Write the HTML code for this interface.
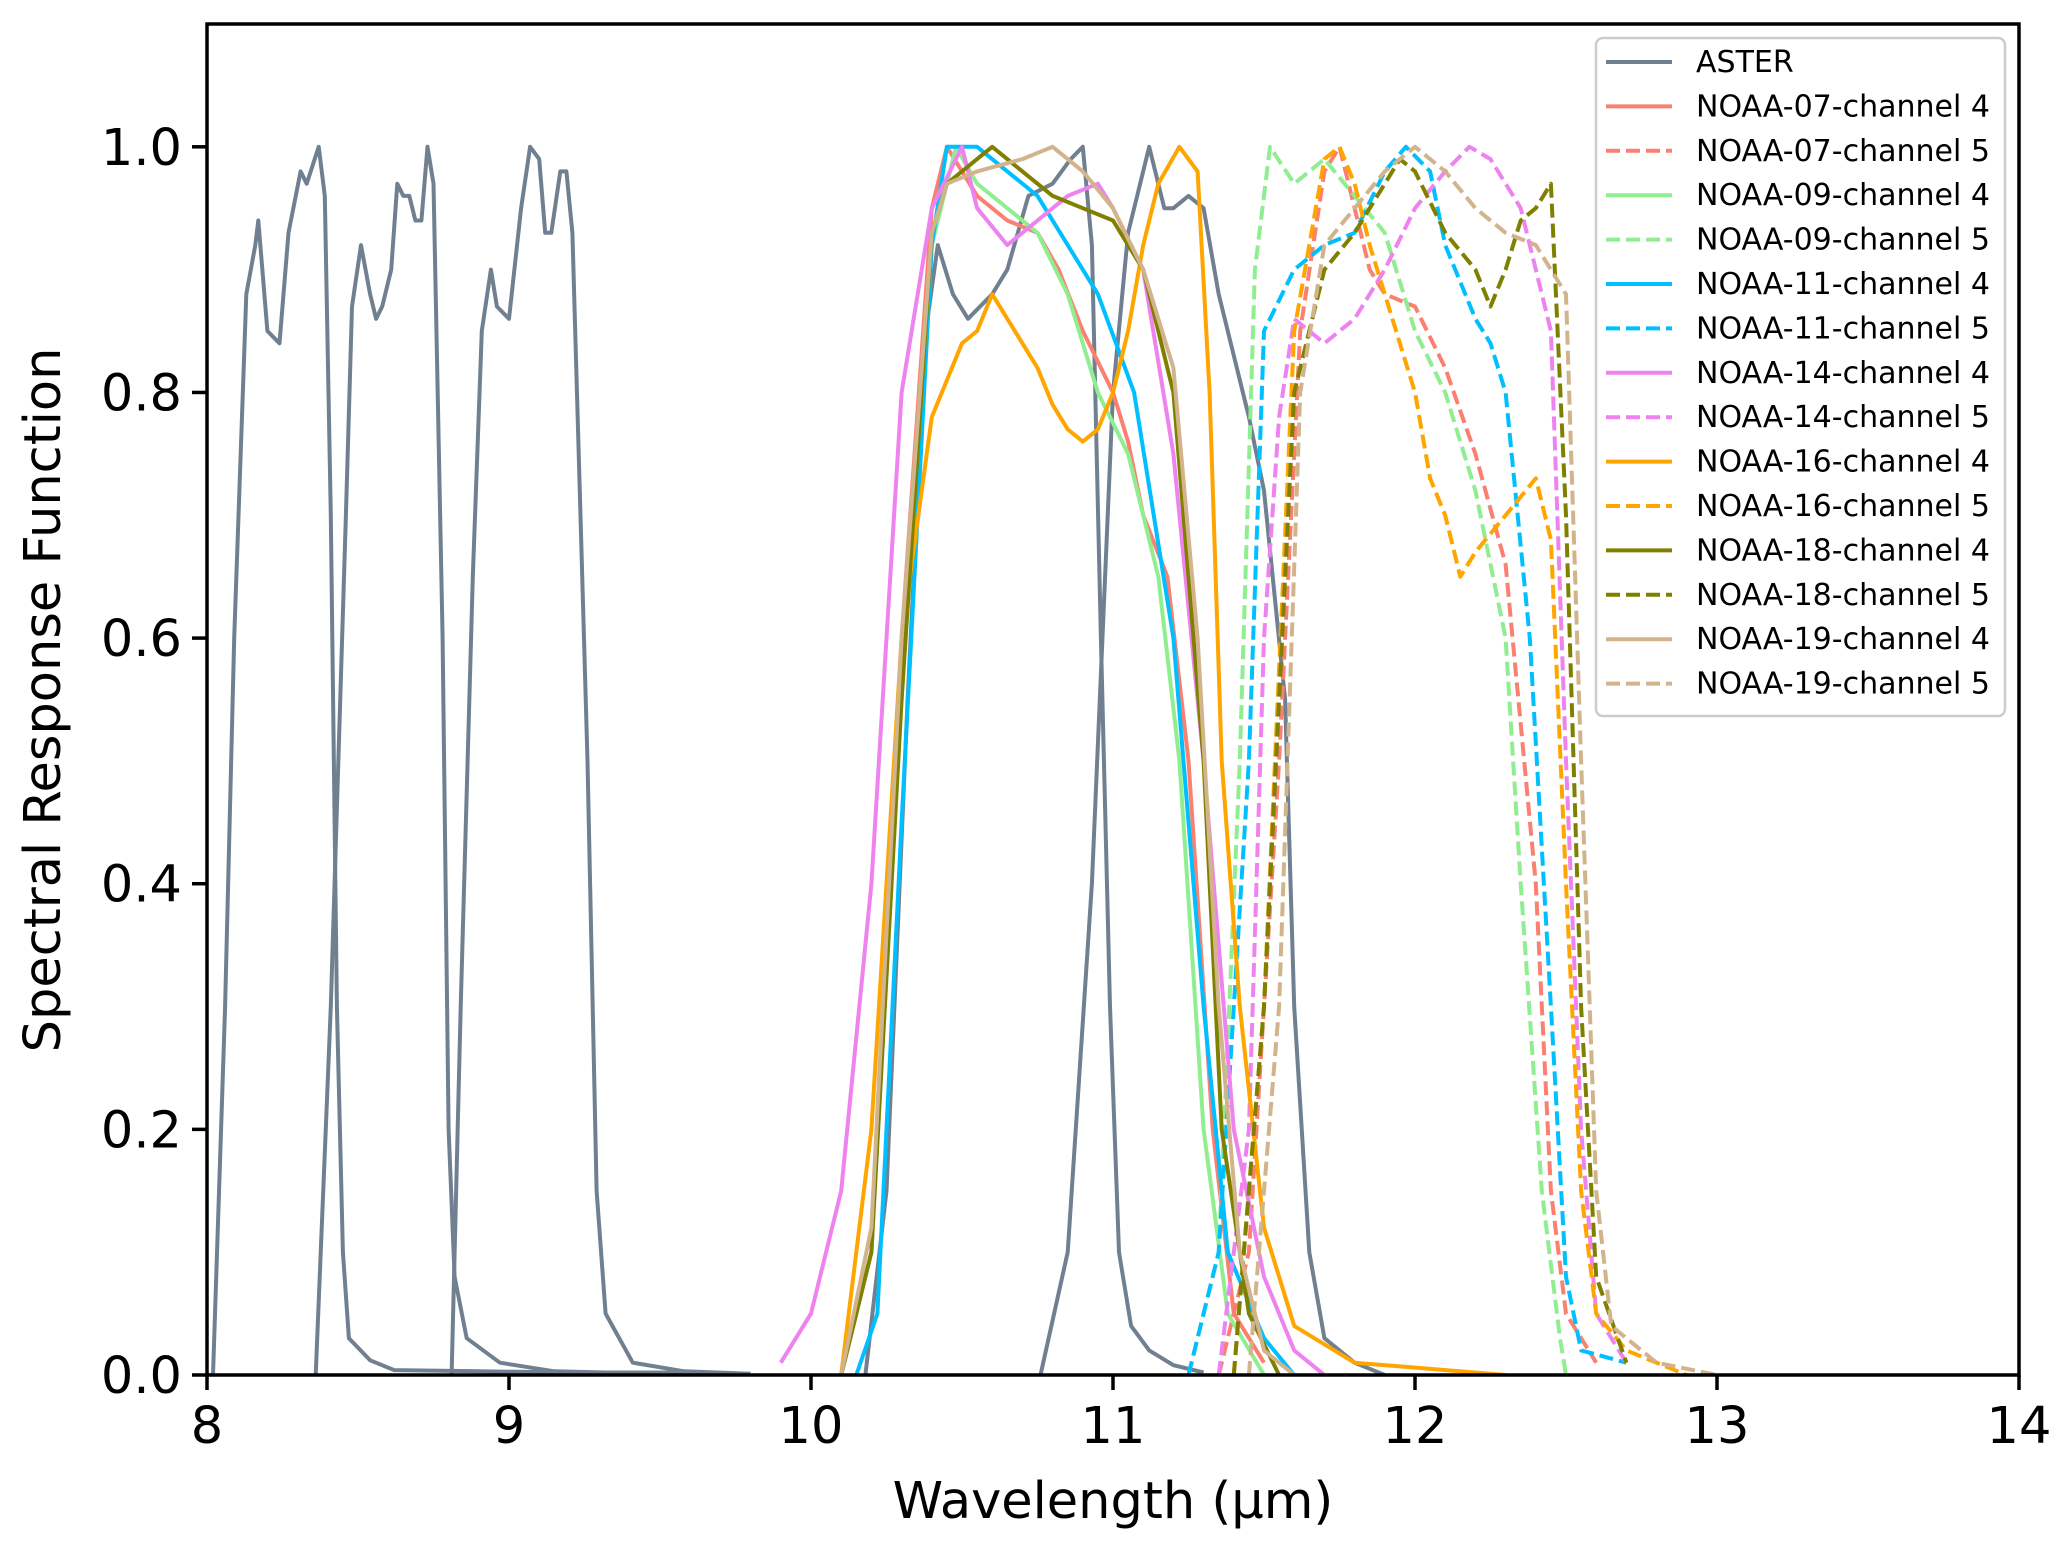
<!DOCTYPE html>
<html><head><meta charset="utf-8"><style>
body{margin:0;background:#fff}
svg{display:block}
text{font-family:"DejaVu Sans","Liberation Sans",sans-serif;fill:#000}
</style></head><body>
<svg id="chart" width="2067" height="1552" viewBox="0 0 2067 1552" xmlns="http://www.w3.org/2000/svg">
<defs><clipPath id="plotclip"><rect x="207" y="24" width="1812" height="1351"/></clipPath></defs>
<rect width="2067" height="1552" fill="#fff"/>
<g id="series" clip-path="url(#plotclip)"></g>
<g id="axes"></g>
<g id="legend"></g>
</svg>
<script>
const xTicks=[8,9,10,11,12,13,14];
const yTicks=[0,0.2,0.4,0.6,0.8,1.0];
const yTickLabels=["0.0","0.2","0.4","0.6","0.8","1.0"];
const seriesNames=["ASTER","NOAA-07-channel 4","NOAA-07-channel 5","NOAA-09-channel 4","NOAA-09-channel 5","NOAA-11-channel 4","NOAA-11-channel 5","NOAA-14-channel 4","NOAA-14-channel 5","NOAA-16-channel 4","NOAA-16-channel 5","NOAA-18-channel 4","NOAA-18-channel 5","NOAA-19-channel 4","NOAA-19-channel 5"];
const seriesColors=["#708090","#FA8072","#FA8072","#90EE90","#90EE90","#00BFFF","#00BFFF","#EE82EE","#EE82EE","#FFA500","#FFA500","#808000","#808000","#D2B48C","#D2B48C"];
const seriesDashed=[false,false,true,false,true,false,true,false,true,false,true,false,true,false,true];

const asterB10X=[8.0,8.02,8.06,8.09,8.13,8.16,8.17,8.2,8.24,8.27,8.31,8.33,8.37,8.39,8.41,8.43,8.45,8.47,8.54,8.62,8.9,9.2,9.6];
const asterB10Y=[0,0,0.3,0.6,0.88,0.92,0.94,0.85,0.84,0.93,0.98,0.97,1.0,0.96,0.7,0.3,0.1,0.03,0.012,0.004,0.003,0.002,0.002];
const asterB11X=[8.36,8.41,8.46,8.48,8.51,8.54,8.56,8.58,8.61,8.63,8.65,8.67,8.69,8.71,8.73,8.75,8.78,8.8,8.82,8.86,8.97,9.15,9.5];
const asterB11Y=[0,0.3,0.7,0.87,0.92,0.88,0.86,0.87,0.9,0.97,0.96,0.96,0.94,0.94,1.0,0.97,0.6,0.2,0.08,0.03,0.01,0.003,0.001];
const asterB12X=[8.81,8.84,8.88,8.91,8.94,8.96,9.0,9.04,9.07,9.1,9.12,9.14,9.17,9.19,9.21,9.26,9.29,9.32,9.41,9.58,9.8];
const asterB12Y=[0,0.3,0.65,0.85,0.9,0.87,0.86,0.95,1.0,0.99,0.93,0.93,0.98,0.98,0.93,0.5,0.15,0.05,0.01,0.003,0.001];
const asterB13X=[10.18,10.25,10.32,10.38,10.42,10.47,10.52,10.6,10.65,10.72,10.8,10.86,10.9,10.93,10.96,10.99,11.02,11.06,11.12,11.2,11.3];
const asterB13Y=[0,0.15,0.55,0.85,0.92,0.88,0.86,0.88,0.9,0.96,0.97,0.99,1.0,0.92,0.6,0.3,0.1,0.04,0.02,0.008,0.002];
const asterB14X=[10.76,10.85,10.93,11.0,11.05,11.12,11.17,11.2,11.25,11.3,11.35,11.45,11.5,11.57,11.6,11.65,11.7,11.8,11.9];
const asterB14Y=[0,0.1,0.4,0.8,0.93,1.0,0.95,0.95,0.96,0.95,0.88,0.78,0.72,0.55,0.3,0.1,0.03,0.01,0];

const noaa07c4X=[10.1,10.2,10.3,10.4,10.45,10.55,10.65,10.75,10.82,10.9,11.0,11.05,11.1,11.18,11.25,11.33,11.4,11.5];
const noaa07c4Y=[0,0.1,0.6,0.95,1.0,0.96,0.94,0.93,0.9,0.85,0.8,0.76,0.7,0.65,0.5,0.2,0.05,0.01];
const noaa07c5X=[11.35,11.45,11.55,11.62,11.7,11.75,11.8,11.85,11.9,12.0,12.1,12.2,12.3,12.4,12.45,12.5,12.6];
const noaa07c5Y=[0,0.1,0.5,0.85,0.98,1.0,0.95,0.9,0.88,0.87,0.82,0.75,0.66,0.4,0.15,0.05,0.01];
const noaa09c4X=[10.1,10.2,10.3,10.4,10.48,10.55,10.65,10.75,10.85,10.95,11.05,11.15,11.22,11.3,11.38,11.5];
const noaa09c4Y=[0,0.1,0.55,0.92,1.0,0.97,0.95,0.93,0.88,0.8,0.75,0.65,0.5,0.2,0.05,0];
const noaa09c5X=[11.25,11.35,11.42,11.47,11.52,11.6,11.7,11.8,11.9,12.0,12.1,12.2,12.3,12.35,12.42,12.48,12.5];
const noaa09c5Y=[0,0.1,0.5,0.9,1.0,0.97,0.99,0.96,0.93,0.85,0.8,0.72,0.6,0.4,0.15,0.03,0];
const noaa11c4X=[10.15,10.22,10.3,10.4,10.45,10.55,10.65,10.75,10.85,10.95,11.07,11.2,11.3,11.38,11.5,11.6];
const noaa11c4Y=[0,0.05,0.45,0.92,1.0,1.0,0.98,0.96,0.92,0.88,0.8,0.6,0.3,0.1,0.03,0];
const noaa11c5X=[11.25,11.35,11.45,11.5,11.6,11.7,11.8,11.9,11.97,12.05,12.1,12.2,12.25,12.3,12.38,12.45,12.5,12.55,12.7];
const noaa11c5Y=[0,0.1,0.5,0.85,0.9,0.92,0.93,0.98,1.0,0.98,0.92,0.86,0.84,0.8,0.6,0.3,0.08,0.02,0.01];
const noaa14c4X=[9.9,10.0,10.1,10.2,10.3,10.4,10.5,10.55,10.65,10.75,10.85,10.95,11.0,11.1,11.2,11.3,11.4,11.5,11.6,11.7];
const noaa14c4Y=[0.01,0.05,0.15,0.4,0.8,0.95,1.0,0.95,0.92,0.94,0.96,0.97,0.95,0.9,0.75,0.5,0.2,0.08,0.02,0];
const noaa14c5X=[11.35,11.45,11.5,11.55,11.6,11.7,11.8,11.9,12.0,12.1,12.18,12.25,12.35,12.45,12.5,12.55,12.6,12.7];
const noaa14c5Y=[0,0.2,0.6,0.78,0.86,0.84,0.86,0.9,0.95,0.98,1.0,0.99,0.95,0.85,0.5,0.2,0.05,0.01];
const noaa16c4X=[10.1,10.2,10.3,10.4,10.45,10.5,10.55,10.6,10.65,10.7,10.75,10.8,10.85,10.9,10.95,11.0,11.05,11.1,11.15,11.22,11.28,11.32,11.36,11.42,11.5,11.6,11.8,12.3];
const noaa16c4Y=[0,0.2,0.6,0.78,0.81,0.84,0.85,0.88,0.86,0.84,0.82,0.79,0.77,0.76,0.77,0.8,0.85,0.92,0.97,1.0,0.98,0.8,0.5,0.3,0.12,0.04,0.01,0];
const noaa16c5X=[11.4,11.5,11.6,11.7,11.75,11.8,11.85,11.9,12.0,12.05,12.1,12.15,12.2,12.3,12.4,12.45,12.5,12.55,12.6,12.7,12.9];
const noaa16c5Y=[0,0.3,0.85,0.99,1.0,0.97,0.92,0.88,0.8,0.73,0.7,0.65,0.67,0.7,0.73,0.68,0.4,0.15,0.05,0.02,0];
const noaa18c4X=[10.1,10.2,10.3,10.4,10.45,10.55,10.6,10.7,10.8,10.9,11.0,11.1,11.2,11.3,11.36,11.45,11.55];
const noaa18c4Y=[0,0.1,0.55,0.93,0.97,0.99,1.0,0.98,0.96,0.95,0.94,0.9,0.8,0.5,0.2,0.05,0];
const noaa18c5X=[11.4,11.5,11.6,11.7,11.8,11.9,11.95,12.0,12.1,12.2,12.25,12.3,12.35,12.4,12.45,12.5,12.55,12.6,12.7];
const noaa18c5Y=[0,0.3,0.8,0.9,0.93,0.97,0.99,0.98,0.93,0.9,0.87,0.9,0.94,0.95,0.97,0.7,0.3,0.08,0.01];
const noaa19c4X=[10.1,10.2,10.3,10.4,10.45,10.55,10.7,10.8,10.9,11.0,11.1,11.2,11.28,11.35,11.42,11.5,11.6];
const noaa19c4Y=[0,0.12,0.6,0.93,0.97,0.98,0.99,1.0,0.98,0.95,0.9,0.82,0.6,0.3,0.1,0.02,0];
const noaa19c5X=[11.45,11.55,11.62,11.7,11.8,11.9,12.0,12.1,12.2,12.3,12.4,12.5,12.55,12.6,12.65,12.8,13.0];
const noaa19c5Y=[0,0.3,0.8,0.92,0.95,0.98,1.0,0.98,0.95,0.93,0.92,0.88,0.5,0.15,0.04,0.01,0];

const seriesData=[
 [[asterB10X,asterB10Y],[asterB11X,asterB11Y],[asterB12X,asterB12Y],[asterB13X,asterB13Y],[asterB14X,asterB14Y]],
 [[noaa07c4X,noaa07c4Y]],[[noaa07c5X,noaa07c5Y]],
 [[noaa09c4X,noaa09c4Y]],[[noaa09c5X,noaa09c5Y]],
 [[noaa11c4X,noaa11c4Y]],[[noaa11c5X,noaa11c5Y]],
 [[noaa14c4X,noaa14c4Y]],[[noaa14c5X,noaa14c5Y]],
 [[noaa16c4X,noaa16c4Y]],[[noaa16c5X,noaa16c5Y]],
 [[noaa18c4X,noaa18c4Y]],[[noaa18c5X,noaa18c5Y]],
 [[noaa19c4X,noaa19c4Y]],[[noaa19c5X,noaa19c5Y]]
];

const L=207,R=2019,T=24,B=1375,XMIN=8,XMAX=14,YMIN=0,YMAX=1.1;
function sx(v){return L+(v-XMIN)/(XMAX-XMIN)*(R-L);}
function sy(v){return B-(v-YMIN)/(YMAX-YMIN)*(B-T);}
const NS="http://www.w3.org/2000/svg";
function mk(tag,attrs,parent){const e=document.createElementNS(NS,tag);for(const k in attrs)e.setAttribute(k,attrs[k]);parent.appendChild(e);return e;}

const sg=document.getElementById('series');
for(let i=0;i<seriesData.length;i++){
  const g=mk('g',{},sg);
  
  
  for(const [xs,ys] of seriesData[i]){
    let d='';
    for(let j=0;j<xs.length;j++)d+=(j?'L':'M')+sx(xs[j]).toFixed(1)+','+sy(ys[j]).toFixed(1);
    const p=mk('path',{d:d,fill:'none',stroke:seriesColors[i],'stroke-width':4,'stroke-linejoin':'round'},g);
    if(seriesDashed[i])p.setAttribute('stroke-dasharray','14,6');
    
    
  }
}

const ax=document.getElementById('axes');
const frame=mk('rect',{x:L,y:T,width:R-L,height:B-T,fill:'none',stroke:'#000','stroke-width':3.5},ax);


xTicks.forEach(v=>{
  const t=mk('line',{x1:sx(v),x2:sx(v),y1:B,y2:B+15,stroke:'#000','stroke-width':3.5},ax);
  
  
  const tx=mk('text',{x:sx(v),y:B+68,'text-anchor':'middle','font-size':51},ax);
  tx.textContent=String(v);
  
  
});
yTicks.forEach((v,i)=>{
  const t=mk('line',{x1:L-15,x2:L,y1:sy(v),y2:sy(v),stroke:'#000','stroke-width':3.5},ax);
  
  
  const tx=mk('text',{x:L-25,y:sy(v)+18,'text-anchor':'end','font-size':51},ax);
  tx.textContent=yTickLabels[i];
  
  
});
const xl=mk('text',{x:(L+R)/2,y:1518,'text-anchor':'middle','font-size':51},ax);
xl.textContent='Wavelength (μm)';


const yl=mk('text',{x:0,y:0,'text-anchor':'middle','font-size':51,transform:'translate(60,700) rotate(-90)'},ax);
yl.textContent='Spectral Response Function';



const lg=document.getElementById('legend');
const box=mk('rect',{x:1596,y:38,width:409,height:678,rx:7,fill:'#fff','fill-opacity':0.85,stroke:'#ccc','stroke-width':2.5},lg);


seriesNames.forEach((n,i)=>{
  const y=62+i*44.4;
  const g=mk('g',{},lg);
  
  
  const ln=mk('line',{x1:1606,x2:1672,y1:y,y2:y,stroke:seriesColors[i],'stroke-width':4},g);
  if(seriesDashed[i])ln.setAttribute('stroke-dasharray','14,6');
  
  
  const t=mk('text',{x:1696,y:y+10,'font-size':30},g);
  t.textContent=n;
  
  
});
</script>
</body></html>
